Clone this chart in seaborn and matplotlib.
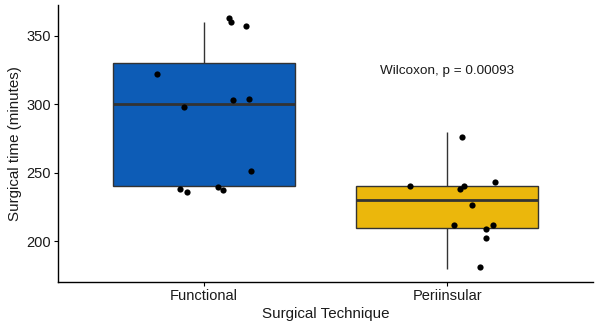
import numpy as np
import pandas as pd
import matplotlib
matplotlib.use("Agg")
import matplotlib.pyplot as plt
import seaborn as sns

# Surgical times (minutes) per technique
techniques = ["Functional", "Periinsular"]
functional_times = [360, 360, 360, 320, 300, 300, 300, 250, 240, 240, 240, 240]
periinsular_times = [280, 240, 240, 240, 240, 230, 210, 210, 210, 200, 180]

# Jitter offsets applied to the plotted points (category units, minutes)
functional_dx = [0.102, 0.112, 0.174, -0.192, 0.119, 0.186, -0.083, 0.195, -0.100, -0.069, 0.057, 0.080]
functional_dy = [2.9, 0.4, -2.7, 2.5, 3.3, 3.8, -1.6, 1.2, -1.7, -4.0, -0.2, -2.6]
periinsular_dx = [0.062, -0.153, 0.055, 0.070, 0.197, 0.102, 0.029, 0.188, 0.161, 0.161, 0.137]
periinsular_dy = [-3.5, 0.7, -1.7, 0.0, 3.6, -3.4, 1.5, 1.8, -1.1, 2.3, 1.2]

palette = {"Functional": "#0D5CB6", "Periinsular": "#EBB70C"}
p_label = "Wilcoxon, p = 0.00093"

df = pd.DataFrame({
    "technique": ["Functional"] * len(functional_times) + ["Periinsular"] * len(periinsular_times),
    "time": functional_times + periinsular_times,
})
jit = pd.DataFrame({
    "x": [0 + d for d in functional_dx] + [1 + d for d in periinsular_dx],
    "y": [t + d for t, d in zip(functional_times, functional_dy)]
         + [t + d for t, d in zip(periinsular_times, periinsular_dy)],
})

sns.set_theme(style="ticks")
plt.rcParams["font.family"] = ["Liberation Sans", "DejaVu Sans"]

fig = plt.figure(figsize=(6.0, 3.29), dpi=100)
ax = fig.add_axes([58 / 600, 1 - 282 / 329, 535 / 600, 277 / 329])

edge = "#333333"
sns.boxplot(
    data=df, x="technique", y="time", hue="technique", order=techniques,
    palette=palette, width=0.75, whis=1.5, showfliers=False, saturation=1,
    linewidth=1.0, linecolor=edge, legend=False, ax=ax,
    medianprops=dict(color=edge, linewidth=2.0),
    whiskerprops=dict(color=edge, linewidth=1.0),
    capprops=dict(linewidth=0),
    boxprops=dict(edgecolor=edge, linewidth=1.0),
)
sns.scatterplot(data=jit, x="x", y="y", color="black", s=20, linewidth=0, ax=ax, zorder=5)

ax.set_xlim(-0.6, 1.6)
ax.set_ylim(170.2, 372.6)
ax.set_yticks([200, 250, 300, 350])
ax.set_xticks([0, 1])
ax.set_xticklabels(techniques)

ax.text(1.0, 324.5, p_label, ha="center", va="center", fontsize=9.7, color="#1A1A1A")

ax.set_xlabel("Surgical Technique", fontsize=10.9, color="#1A1A1A", labelpad=3)
ax.set_ylabel("Surgical time (minutes)", fontsize=10.9, color="#1A1A1A", labelpad=3)
ax.tick_params(axis="both", labelsize=10.5, colors="black", labelcolor="#1A1A1A",
               length=3, width=0.8, pad=2)
for side in ["top", "right"]:
    ax.spines[side].set_visible(False)
for side in ["left", "bottom"]:
    ax.spines[side].set_color("black")
    ax.spines[side].set_linewidth(1.0)
ax.set_facecolor("white")

fig.savefig("out.png", dpi=100, facecolor="white")
